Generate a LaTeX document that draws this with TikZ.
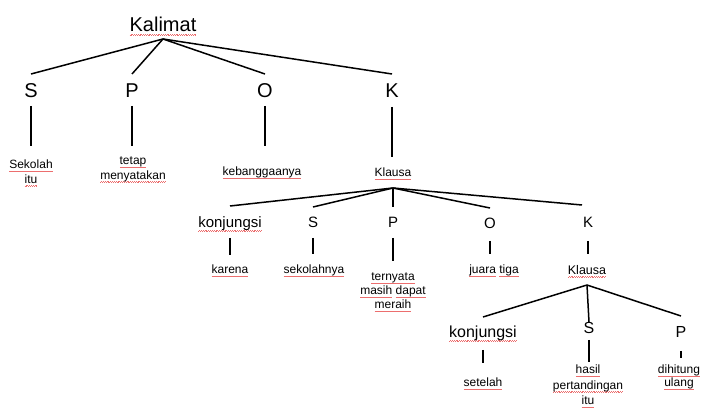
\documentclass[tikz,border=0pt]{standalone}
\usepackage{fontspec}
\setmainfont{Liberation Sans}
\definecolor{sqred}{RGB}{236,110,110}
\newcommand\sq[1]{\leavevmode\setbox0=\hbox{#1}\rlap{\textcolor{sqred}{\raisebox{-3pt}{\hbox to\wd0{\xleaders\hbox{\rule{0.9pt}{0.45pt}\raisebox{0.6pt}{\rule{0.9pt}{0.45pt}}}\hfill}}}}\box0\relax}
\begin{document}
\begin{tikzpicture}[x=1pt,y=-1pt,
  edge/.style={line width=1.5pt,black},
  big/.style={font=\fontsize{20}{24}\selectfont,inner sep=0pt,outer sep=0pt,anchor=base},
  mid/.style={font=\fontsize{15}{18}\selectfont,inner sep=0pt,outer sep=0pt,anchor=base},
  midb/.style={font=\fontsize{16}{19}\selectfont,inner sep=0pt,outer sep=0pt,anchor=base},
  small/.style={font=\fontsize{12}{14.5}\selectfont,inner sep=0pt,outer sep=0pt,anchor=north,align=center}]
\useasboundingbox[fill=white] (0,0) rectangle (702,411);
% level 0
\node[big] (kal) at (163,32) {\sq{Kalimat}};
% level 1
\node[big] (s1) at (31,98) {S};
\node[big] (p1) at (132,98) {P};
\node[big] (o1) at (265,98) {O};
\node[big] (k1) at (392,98) {K};
\node[small] (sek) at (31,160) {\sq{Sekolah}\\\sq{itu}};
\node[small] (tet) at (133,157) {\sq{tetap}\\\sq{menyatakan}};
\node[small] (keb) at (262,167) {\sq{kebanggaanya}};
\node[small] (kl1) at (393,168) {\sq{Klausa}};
\foreach \n in {s1,p1,o1,k1}{\draw[edge] ([yshift=-7pt]kal.base) -- ([yshift=24pt]\n.base);}
\draw[edge] ([yshift=-8pt]s1.base) -- ([yshift=14pt]s1.base |- sek.north);
\draw[edge] ([yshift=-8pt]p1.base) -- ([yshift=11pt]p1.base |- tet.north);
\draw[edge] ([yshift=-8pt]o1.base) -- ([yshift=21pt]o1.base |- keb.north);
\draw[edge] ([yshift=-9pt]k1.base) -- ([yshift=11pt]k1.base |- kl1.north);
% level 2
\node[mid] (kj1) at (230,228) {\sq{konjungsi}};
\node[mid] (s2) at (313,228) {S};
\node[mid] (p2) at (393,228) {P};
\node[mid] (o2) at (490,229) {O};
\node[mid] (k2) at (588,228) {K};
\node[small] (kar) at (230,265) {\sq{karena}};
\node[small] (skn) at (314,265) {\sq{sekolahnya}};
\node[small,font=\fontsize{12}{14}\selectfont] (ter) at (393,273) {\sq{ternyata}\\\sq{masih} \sq{dapat}\\\sq{meraih}};
\node[small] (jua) at (494,265) {\sq{juara} \sq{tiga}};
\node[small,font=\fontsize{12.5}{15}\selectfont] (kl2) at (587,265) {\sq{Klausa}};
\draw[edge] ([yshift=-20pt]kl1.north) -- ([yshift=22pt]kj1.base);
\draw[edge] ([yshift=-20pt]kl1.north) -- ([yshift=21pt]s2.base);
\draw[edge] ([yshift=-20pt]kl1.north) -- ([yshift=21pt]p2.base);
\draw[edge] ([yshift=-20pt]kl1.north) -- ([yshift=21pt]o2.base);
\draw[edge] ([yshift=-20pt]kl1.north) -- ([xshift=-6pt,yshift=23pt]k2.base);
\draw[edge] ([yshift=-10pt]kj1.base) -- ([yshift=10pt]kj1.base |- kar.north);
\draw[edge] ([yshift=-10pt]s2.base) -- ([yshift=11pt]s2.base |- skn.north);
\draw[edge] ([yshift=-10pt]p2.base) -- ([yshift=12pt]p2.base |- ter.north);
\draw[edge] ([yshift=-12pt]o2.base) -- ([yshift=11pt]o2.base |- jua.north);
\draw[edge] ([yshift=-13pt]k2.base) -- ([yshift=11pt]k2.base |- kl2.north);
% level 3
\node[midb] (kj2) at (483,338) {\sq{konjungsi}};
\node[midb] (s3) at (589,334) {S};
\node[midb] (p3) at (681,338) {P};
\node[small] (set) at (483,378) {\sq{setelah}};
\node[small,font=\fontsize{12}{15.5}\selectfont] (has) at (588,365) {\sq{hasil}\\\sq{pertandingan}\\\sq{itu}};
\node[small,font=\fontsize{12}{13}\selectfont] (dih) at (679,365) {\sq{dihitung}\\\sq{ulang}};
\draw[edge] ([yshift=-20pt]kl2.north) -- ([yshift=21pt]kj2.base);
\draw[edge] ([yshift=-20pt]kl2.north) -- ([yshift=12pt]s3.base);
\draw[edge] ([yshift=-20pt]kl2.north) -- ([yshift=22pt]p3.base);
\draw[edge] ([yshift=-12pt]kj2.base) -- ([yshift=15pt]kj2.base |- set.north);
\draw[edge] ([yshift=-6pt]s3.base) -- ([yshift=3pt]s3.base |- has.north);
\draw[edge] ([yshift=-13pt]p3.base) -- ([yshift=7pt]p3.base |- dih.north);
\end{tikzpicture}
\end{document}
